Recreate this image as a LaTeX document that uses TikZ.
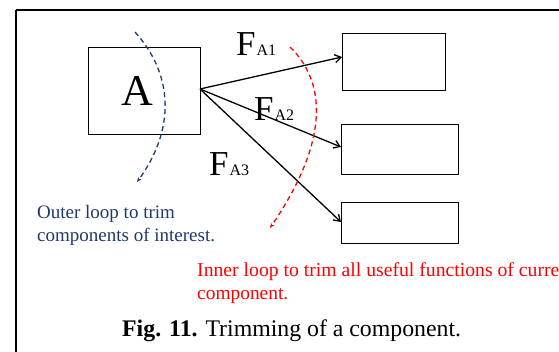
\documentclass[tikz,border=0pt]{standalone}
\usepackage{fontspec}
\setmainfont{Liberation Serif}
\usetikzlibrary{arrows.meta}
\definecolor{loopblue}{RGB}{31,56,110}
\definecolor{loopred}{RGB}{255,0,0}
\newcommand{\flabel}[1]{\fontsize{35}{35}\selectfont F\kern1pt\fontsize{16}{16}\selectfont #1}
\begin{document}
\begin{tikzpicture}[x=1pt,y=-1pt,
  blk/.style={draw,line width=1.4pt,inner sep=0pt,anchor=north west},
  fn/.style={line width=1.3pt,-{Straight Barb[length=6pt,width=8pt]}},
  loopline/.style={line width=1.3pt,dash pattern=on 5pt off 3.5pt,-{Stealth[length=5pt,width=4pt]}},
  txt/.style={anchor=base west,inner sep=0pt}]
\useasboundingbox (0,0) rectangle (559,352);
\begin{scope}
\clip (0,0) rectangle (559,352);
\draw[line width=2.6pt] (16,10) -- (575,10);
\draw[line width=2.6pt] (16,10) -- (16,360);
% box A
\node[blk,minimum width=112pt,minimum height=87pt] (A) at (88,47) {};
\node[txt] (Alabel) at (121,106) {\fontsize{44}{44}\selectfont A};
% right boxes
\node[blk,minimum width=103pt,minimum height=57pt] (B1) at (342,33) {};
\node[blk,minimum width=117pt,minimum height=50pt] (B2) at (341,124) {};
\node[blk,minimum width=117pt,minimum height=41pt] (B3) at (341,202) {};
\coordinate (src) at (200,89);
\coordinate (t1) at (342,57);
\coordinate (t2) at (341,147);
\coordinate (t3) at (341,222);
\draw[fn] (src) -- (t1);
\draw[fn] (src) -- (t2);
\draw[fn] (src) -- (t3);
% labels
\node[txt] (F1) at (236,56) {\flabel{A1}};
\node[txt] (F2) at (254,121) {\flabel{A2}};
\node[txt] (F3) at (209,176) {\flabel{A3}};
% loops
\coordinate (b0) at (135,32);
\coordinate (b1) at (137,182);
\draw[loopline,loopblue] (b0) .. controls (174,75) and (175,130) .. (b1);
\coordinate (r0) at (290,47);
\coordinate (r1) at (270,228);
\draw[loopline,loopred] (r0) .. controls (326,82) and (330,140) .. (r1);
% texts
\node[txt,loopblue] (o1) at (37,219) {\fontsize{19}{19}\selectfont Outer loop to trim};
\node[txt,loopblue] (o2) at (37,242) {\fontsize{19}{19}\selectfont components of interest.};
\node[txt,loopred] (i1) at (197,277) {\fontsize{19.7}{19.7}\selectfont Inner loop to trim all useful functions of curre};
\node[txt,loopred] (i2) at (197,300) {\fontsize{19.4}{19.4}\selectfont component.};
\node[txt] (cap) at (122,337) {\fontsize{23.8}{23.8}\selectfont\textbf{Fig. 11.} Trimming of a component.};
\end{scope}
\end{tikzpicture}
\end{document}
